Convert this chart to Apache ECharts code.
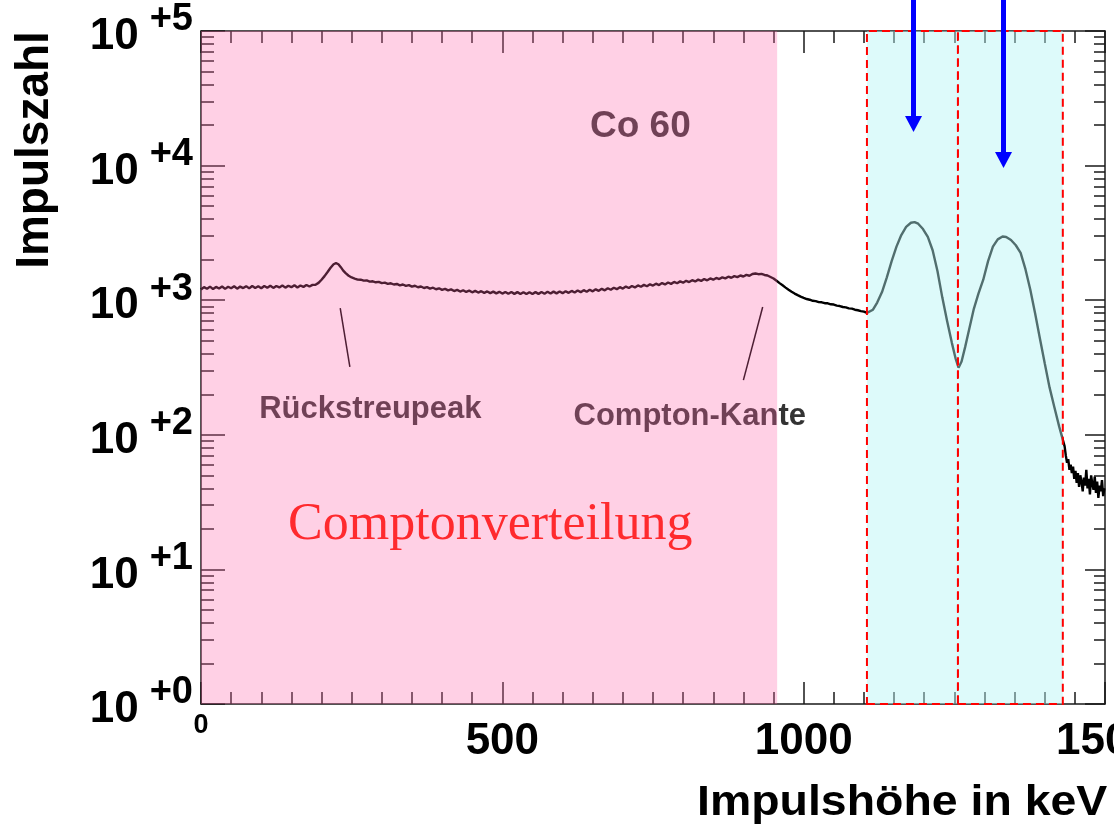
<!DOCTYPE html>
<html><head><meta charset="utf-8">
<script src="https://cdn.jsdelivr.net/npm/echarts@6/dist/echarts.min.js"></script>
<style>html,body{margin:0;padding:0;background:#fff}#c{width:1114px;height:829px}</style>
</head><body><div id="c"></div>
<script>
// ---------------- data ----------------
const xTickLabels = [0, 500, 1000, 1500];
const yDecades = [1, 10, 100, 1000, 10000, 100000];
const yMinor = [2,3,4,5,6,7,8,9, 20,30,40,50,60,70,80,90, 200,300,400,500,600,700,800,900,
  2000,3000,4000,5000,6000,7000,8000,9000, 20000,30000,40000,50000,60000,70000,80000,90000];

// Compton continuum (keV, counts)
const comptonRegion = [
 [0,1200],[5,1250],[10,1215],[15,1262],[20,1210],[25,1255],[30,1222],[35,1265],[40,1214],[45,1258],
 [50,1226],[55,1268],[60,1218],[65,1262],[70,1230],[75,1272],[80,1224],[85,1275],[90,1232],[95,1268],
 [100,1228],[105,1276],[110,1238],[115,1282],[120,1234],[125,1276],[130,1244],[135,1286],[140,1240],[145,1280],
 [150,1250],[155,1292],[160,1244],[165,1286],[170,1256],[175,1298],[180,1264],[185,1300],[190,1302],[195,1345],
 [200,1420],[205,1510],[210,1620],[215,1740],[220,1850],[224,1885],[228,1850],[232,1760],[236,1660],[240,1590],
 [245,1520],[250,1475],[255,1448],[260,1422],[265,1420],[270,1398],[275,1402],[280,1375],[285,1382],[290,1358],
 [295,1368],[300,1340],[305,1350],[310,1322],[315,1336],[320,1308],[325,1320],[330,1290],[335,1308],[340,1278],
 [345,1294],[350,1262],[355,1280],[360,1248],[365,1264],[370,1232],[375,1250],[380,1220],[385,1238],[390,1206],
 [395,1226],[400,1194],[405,1214],[410,1182],[415,1204],[420,1170],[425,1194],[430,1160],[435,1186],[440,1152],
 [445,1178],[450,1145],[455,1172],[460,1140],[465,1166],[470,1134],[475,1162],[480,1128],[485,1158],[490,1124],
 [495,1154],[500,1120],[505,1152],[510,1116],[515,1150],[520,1114],[525,1148],[530,1112],[535,1146],[540,1110],
 [545,1146],[550,1112],[555,1148],[560,1114],[565,1150],[570,1118],[575,1154],[580,1120],[585,1158],[590,1124],
 [595,1160],[600,1128],[605,1166],[610,1134],[615,1172],[620,1140],[625,1180],[630,1148],[635,1188],[640,1156],
 [645,1196],[650,1164],[655,1204],[660,1174],[665,1214],[670,1184],[675,1226],[680,1196],[685,1238],[690,1208],
 [695,1250],[700,1220],[705,1262],[710,1232],[715,1275],[720,1245],[725,1288],[730,1258],[735,1300],[740,1270],
 [745,1312],[750,1284],[755,1326],[760,1296],[765,1340],[770,1310],[775,1354],[780,1322],[785,1366],[790,1336],
 [795,1380],[800,1350],[805,1394],[810,1364],[815,1408],[820,1378],[825,1422],[830,1392],[835,1436],[840,1406],
 [845,1450],[850,1420],[855,1464],[860,1436],[865,1478],[870,1452],[875,1494],[880,1468],[885,1510],[890,1484],
 [895,1526],[900,1500],[905,1542],[910,1520],[915,1566],[920,1580],[925,1560],[930,1568],[935,1540],[940,1525],
 [945,1488],[950,1450],[955,1395],[960,1340],[965,1290],[970,1240],[975,1195],[980,1155],[985,1120],[990,1090],
 [995,1062],[1000,1040],[1005,1020],[1010,1008],[1015,990],[1020,985],[1025,968],[1030,965],[1035,950],[1040,948],
 [1045,932],[1050,928],[1055,912],[1060,905],[1065,890],[1070,885],[1075,870],[1080,866],[1085,850],[1090,842],
 [1095,830],[1100,822],[1105,805]
];

// photopeaks at 1173 and 1332 keV (keV, counts)
const photopeaks = [
 [1108,790],[1115,850],[1122,960],[1130,1150],[1138,1480],[1146,1950],[1154,2500],[1162,3050],[1170,3500],
 [1178,3760],[1184,3800],[1190,3700],[1198,3380],[1206,2950],[1214,2350],[1222,1650],[1230,1050],[1238,700],
 [1246,480],[1252,370],[1257,315],[1262,350],[1268,450],[1275,620],[1282,850],[1290,1120],[1298,1420],
 [1306,1950],[1314,2500],[1322,2830],[1330,2970],[1336,2950],[1344,2800],[1352,2560],[1360,2250],[1368,1700],
 [1376,1200],[1384,800],[1392,520],[1400,340],[1408,225],[1416,160],[1424,115],[1433,82]
];

// noisy tail above the photopeaks (keV, counts)
const tail = [
 [1435,70],[1437,62],[1439,66],[1441,55],[1443,60],[1445,52],[1447,58],[1449,47],[1451,54],[1453,44],
 [1455,52],[1457,41],[1459,50],[1461,45],[1463,38],[1465,48],[1467,42],[1469,55],[1471,40],[1473,47],
 [1475,36],[1477,50],[1479,43],[1481,39],[1483,49],[1485,37],[1487,45],[1489,34],[1491,42],[1493,38],
 [1495,46],[1497,35],[1499,40]
];

const comptonRange = [0, 956];                       // keV
const peakWindows = [[1105, 1256], [1256, 1430]];    // keV
const gammaLines = [1181, 1331];                     // arrow x (keV)
const arrowTips = [17800, 9600];                     // arrow tip (counts)
const annotationNames = ['Co 60', 'Rückstreupeak', 'Compton-Kante'];
const annotationAt = [[729, 19360], [281, 153], [811, 138]];
const pointerLines = [[[231, 875], [247, 319]], [[932, 890], [900, 255]]];
const regionName = 'Comptonverteilung';
const regionAt = [480, 21.4];

// ---------------- chart ----------------
const FONT = '"Liberation Sans", Arial, Helvetica, sans-serif';
const AX = '#1a1a1a';
const chart = echarts.init(document.getElementById('c'), null, {renderer: 'canvas'});

function xAxisDef(pos, showLabel) {
  return {
    type: 'value', position: pos, min: 0, max: 1500, interval: 500,
    axisLine: {show: true, onZero: false, lineStyle: {color: AX, width: 1.5}},
    axisTick: {show: true, inside: true, length: 22, lineStyle: {color: AX, width: 1.5}},
    minorTick: {show: true, splitNumber: 10, length: 12, lineStyle: {color: AX, width: 1.5}},
    splitLine: {show: false}, minorSplitLine: {show: false},
    axisLabel: showLabel ? {
      show: true, margin: 16, showMinLabel: true, showMaxLabel: true, hideOverlap: false,
      formatter: v => v === 0 ? '{z|0}' : '{n|' + v + '}',
      rich: {
        z: {fontSize: 27, fontWeight: 'bold', fontFamily: FONT, lineHeight: 12, color: '#000'},
        n: {fontSize: 44, fontWeight: 'bold', fontFamily: FONT, lineHeight: 44, color: '#000'}
      }
    } : {show: false}
  };
}
function yAxisDef(pos, major, len, showLabel) {
  return {
    type: 'log', logBase: 10, min: 1, max: 100000, position: pos,
    axisLine: {show: major, onZero: false, lineStyle: {color: AX, width: 1.5}},
    axisTick: {show: true, inside: true, length: len, customValues: major ? yDecades : yMinor,
               lineStyle: {color: AX, width: 1.5}},
    minorTick: {show: false},
    splitLine: {show: false},
    axisLabel: showLabel ? {
      show: true, customValues: yDecades, margin: 8, padding: [0, 0, 2, 0], hideOverlap: false,
      formatter: v => '{b|10}{s|+' + Math.round(Math.log10(v)) + '}',
      rich: {
        b: {fontSize: 44, fontWeight: 'bold', fontFamily: FONT, lineHeight: 58, verticalAlign: 'bottom', color: '#000'},
        s: {fontSize: 38, fontWeight: 'bold', fontFamily: FONT, lineHeight: 38, verticalAlign: 'top',
            padding: [0, 0, 0, 11], color: '#000'}
      }
    } : {show: false}
  };
}

const spectrum = comptonRegion.concat(photopeaks, tail);
const PINK = 'rgba(255,100,170,0.30)';
const CYAN = 'rgba(180,245,245,0.45)';
const noBorder = {textBorderWidth: 0, textBorderColor: 'transparent', textShadowBlur: 0};

const option = {
  animation: false,
  backgroundColor: '#fff',
  grid: {left: 201, right: 9, top: 31, bottom: 125, containLabel: false, outerBoundsMode: 'none'},
  xAxis: [xAxisDef('bottom', true), xAxisDef('top', false)],
  yAxis: [yAxisDef('left', true, 24, true), yAxisDef('left', false, 13, false),
          yAxisDef('right', true, 20, false), yAxisDef('right', false, 11, false)],
  series: [
    {
      name: 'Co 60', type: 'line', xAxisIndex: 0, yAxisIndex: 0, z: 2,
      data: spectrum, showSymbol: false, symbol: 'none',
      lineStyle: {color: '#000', width: 2.4},
      markLine: {
        z: 3, silent: true, symbol: ['none', 'none'], animation: false,
        lineStyle: {color: '#000', width: 1.5, type: 'solid'}, label: {show: false},
        data: pointerLines.map(p => [{coord: p[0]}, {coord: p[1]}])
      },
      markArea: {
        z: 6, silent: true, animation: false, label: {show: false},
        data: [
          [{xAxis: comptonRange[0], itemStyle: {color: PINK, borderWidth: 0, opacity: 1}}, {xAxis: comptonRange[1]}]
        ].concat(peakWindows.map(w => [
          {xAxis: w[0], itemStyle: {color: CYAN, opacity: 1, borderColor: '#ff0000', borderWidth: 2, borderType: [8, 5]}},
          {xAxis: w[1]}
        ]))
      }
    },
    {
      type: 'scatter', xAxisIndex: 0, yAxisIndex: 0, z: 2, symbolSize: 0, silent: true,
      itemStyle: {color: '#000'},
      data: annotationNames.map((n, i) => ({
        name: n, value: annotationAt[i],
        label: {fontSize: i === 0 ? 37 : 31}
      })),
      label: Object.assign({show: true, position: 'inside', formatter: '{b}', color: '#000',
               fontFamily: FONT, fontWeight: 'bold', align: 'center', verticalAlign: 'middle'}, noBorder)
    },
    {
      type: 'scatter', xAxisIndex: 0, yAxisIndex: 0, z: 10, symbolSize: 0, silent: true,
      itemStyle: {color: '#ff0000'},
      data: [{name: regionName, value: regionAt}],
      label: Object.assign({show: true, position: 'inside', formatter: '{b}', color: '#ff0000',
               fontFamily: '"Liberation Serif", "Times New Roman", serif', fontSize: 52,
               align: 'center', verticalAlign: 'middle'}, noBorder)
    }
  ]
};
chart.setOption(option);

// arrows + axis titles
const g = [];
gammaLines.forEach((e, i) => {
  const tip = chart.convertToPixel({xAxisIndex: 0, yAxisIndex: 0}, [e, arrowTips[i]]);
  const x = Math.round(tip[0]) + 0.5, y = tip[1];
  g.push({type: 'line', z: 100, shape: {x1: x, y1: 0, x2: x, y2: y - 12},
          style: {stroke: '#0000ff', lineWidth: 5}});
  g.push({type: 'polygon', z: 100, shape: {points: [[x - 8.5, y - 16], [x + 8.5, y - 16], [x, y]]},
          style: {fill: '#0000ff'}});
});
g.push({type: 'text', z: 100, x: 35, y: 150, rotation: Math.PI / 2,
        style: {text: 'Impulszahl', font: 'bold 46px ' + FONT, fill: '#000', align: 'center', verticalAlign: 'middle'}});
g.push({type: 'text', z: 100, x: 697, y: 803, scaleX: 1.08,
        style: {text: 'Impulshöhe in keV', font: 'bold 43px ' + FONT, fill: '#000', align: 'left', verticalAlign: 'middle'}});
chart.setOption({graphic: g});
</script>
</body></html>
